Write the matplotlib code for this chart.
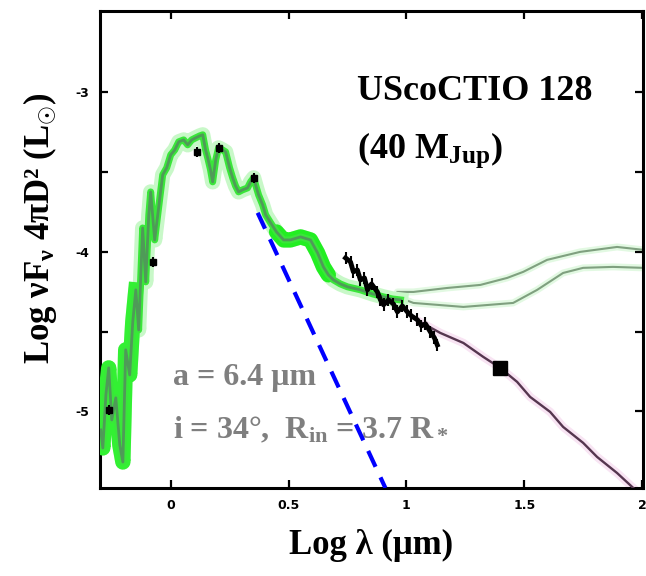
import numpy as np
import matplotlib
matplotlib.use("Agg")
from matplotlib import pyplot as plt
from matplotlib.ticker import FixedLocator, FuncFormatter

plt.rcParams["font.family"] = ["Liberation Serif", "DejaVu Serif"]
plt.rcParams["font.weight"] = "bold"
plt.rcParams["mathtext.fontset"] = "custom"
plt.rcParams["mathtext.rm"] = "Liberation Serif:bold"
plt.rcParams["mathtext.it"] = "Liberation Serif:bold:italic"
plt.rcParams["mathtext.bf"] = "Liberation Serif:bold"

# optical / near-IR spectrum (log lambda [um], log lum [Lsun])
spec_x = [-0.297, -0.288, -0.275, -0.263, -0.250, -0.233, -0.216, -0.203, -0.191, -0.174,
          -0.161, -0.148, -0.136, -0.119, -0.106, -0.093, -0.085, -0.068, -0.055, -0.034,
          -0.017, 0.000, 0.017, 0.034, 0.055, 0.072, 0.089, 0.106, 0.123, 0.136,
          0.148, 0.157, 0.169, 0.178, 0.191, 0.203, 0.220, 0.233, 0.250, 0.263,
          0.275, 0.288, 0.305, 0.326, 0.339, 0.352, 0.364, 0.373, 0.390, 0.403,
          0.424, 0.449, 0.479, 0.508, 0.551, 0.593, 0.623, 0.648, 0.669, 0.691,
          0.720, 0.750, 0.805, 0.856, 0.903, 0.941, 0.975]
spec_y = [-5.116, -5.229, -4.897, -4.727, -5.053, -4.915, -5.210, -5.317, -4.614, -4.771,
          -4.439, -4.238, -4.489, -3.850, -4.188, -3.768, -3.624, -3.925, -3.768, -3.517,
          -3.473, -3.392, -3.361, -3.310, -3.298, -3.329, -3.298, -3.285, -3.273, -3.266,
          -3.361, -3.411, -3.486, -3.561, -3.423, -3.348, -3.361, -3.373, -3.473, -3.536,
          -3.586, -3.624, -3.611, -3.599, -3.561, -3.536, -3.599, -3.643, -3.705, -3.768,
          -3.818, -3.875, -3.925, -3.925, -3.906, -3.925, -4.006, -4.094, -4.144, -4.176,
          -4.201, -4.219, -4.238, -4.263, -4.282, -4.295, -4.301]

# IRS spectrum
irs_x = [0.742, 0.763, 0.775, 0.792, 0.805, 0.822, 0.835, 0.852, 0.877, 0.890, 0.903, 0.924,
         0.945, 0.962, 0.983, 1.004, 1.021, 1.047, 1.064, 1.081, 1.102, 1.119, 1.131]
irs_y = [-4.038, -4.063, -4.125, -4.113, -4.176, -4.163, -4.238, -4.201, -4.251, -4.301,
         -4.332, -4.301, -4.326, -4.376, -4.339, -4.376, -4.401, -4.426, -4.464, -4.451,
         -4.502, -4.539, -4.583]

# photometry
phot_x = [-0.263, -0.076, 0.110, 0.203, 0.352]
phot_y = [-4.991, -4.063, -3.373, -3.348, -3.536]
mips_x = [1.398]
mips_y = [-4.727]

# photosphere continuation
phot_model_x = [1.059, 1.144, 1.242, 1.326, 1.398, 1.470, 1.525, 1.610, 1.665, 1.750, 1.809, 1.894, 1.949, 2.004]
phot_model_y = [-4.439, -4.508, -4.571, -4.658, -4.727, -4.815, -4.909, -5.003, -5.097, -5.197,
                -5.285, -5.386, -5.461, -5.536]

# disk models
disk1_x = [0.962, 1.030, 1.242, 1.453, 1.555, 1.665, 1.750, 1.877, 2.004]
disk1_y = [-4.282, -4.320, -4.345, -4.320, -4.238, -4.132, -4.100, -4.094, -4.100]
disk2_x = [0.962, 1.030, 1.174, 1.314, 1.428, 1.496, 1.597, 1.737, 1.894, 2.004]
disk2_y = [-4.251, -4.251, -4.226, -4.207, -4.163, -4.125, -4.050, -4.000, -3.969, -3.987]

# Rayleigh-Jeans tail
rj_x = [0.369, 0.911]
rj_y = [-3.755, -5.480]

fig = plt.figure(figsize=(6.46, 5.76), dpi=100)
ax = fig.add_axes([100/646, 88/576, 543/646, 477/576])

# disk models with halo
for dx, dy in [(disk1_x, disk1_y), (disk2_x, disk2_y)]:
    ax.plot(dx, dy, color="#e2f9e2", lw=5, solid_capstyle="round", zorder=1)
    ax.plot(dx, dy, color="#7fa07f", lw=1.5, zorder=2)

# photosphere
ax.plot(phot_model_x, phot_model_y, color="#f8e4f3", lw=6, zorder=1)
ax.plot(phot_model_x, phot_model_y, color="#55364f", lw=1.7, zorder=3)

# spectrum: soft halo, bright band, darker trace
ax.plot(spec_x, spec_y, color="#c8f8c8", lw=11, solid_joinstyle="round", zorder=2)
ax.plot(spec_x[:12], spec_y[:12], color="#33f033", lw=11, solid_joinstyle="round", zorder=3)
ax.plot(spec_x[51:59], spec_y[51:59], color="#22ee22", lw=11, solid_joinstyle="round",
        solid_capstyle="round", zorder=3)
ax.plot(spec_x, spec_y, color="#3ae63a", lw=5, solid_joinstyle="round", zorder=3)
ax.plot(spec_x, spec_y, color="#4f9a58", lw=2, zorder=4)

ax.plot(irs_x, irs_y, color="black", lw=3.5, zorder=5)
ax.errorbar(irs_x, irs_y, yerr=0.04, fmt="none", ecolor="black", elinewidth=1.5, zorder=5)

ax.errorbar(phot_x, phot_y, yerr=0.03, fmt="s", color="black", ms=5, elinewidth=1.5, zorder=6)
ax.plot(mips_x, mips_y, "s", color="black", ms=10, zorder=6)

ax.plot(rj_x, rj_y, color="#0000ff", lw=3, dashes=(4.2, 2.8), zorder=7)

ax.set_xlim(-0.3, 2.004)
ax.set_ylim(-5.48, -2.49)

ax.xaxis.set_major_locator(FixedLocator([0, 0.5, 1, 1.5, 2]))
ax.xaxis.set_major_formatter(FuncFormatter(lambda v, p: "%g" % v))
ax.yaxis.set_major_locator(FixedLocator([-5, -4.5, -4, -3.5, -3]))
ax.yaxis.set_major_formatter(FuncFormatter(lambda v, p: "%d" % v if v == int(v) else ""))
ax.tick_params(direction="in", top=True, right=True, length=6, width=1.6, pad=8)
for lab in ax.get_xticklabels() + ax.get_yticklabels():
    lab.set_fontfamily("DejaVu Sans")
    lab.set_fontsize(9)
    lab.set_fontweight("bold")
for sp in ax.spines.values():
    sp.set_linewidth(2.2)

ax.text(0.473, 0.813, "UScoCTIO 128", transform=ax.transAxes, fontsize=26, va="baseline")
ax.text(0.473, 0.692, r"(40 M$_{\rm Jup}$)", transform=ax.transAxes, fontsize=26, va="baseline")
ax.text(0.134, 0.216, "a = 6.4 μm", transform=ax.transAxes, fontsize=23,
        color="#7f7f7f", va="baseline")
ax.text(0.134, 0.105, r"i = 34°,  R$_{\rm in}$ = 3.7 R$_*$", transform=ax.transAxes, fontsize=23,
        color="#7f7f7f", va="baseline")

fig.text(371/646, 1 - 545/576, "Log λ (μm)", fontsize=25, ha="center", va="center")
fig.text(40/646, 1 - 228/576, r"Log νF$_{\rm ν}$ 4πD² (L$_{\odot}$)", fontsize=25,
         rotation=90, ha="center", va="center")

fig.savefig("out.png", dpi=100)
